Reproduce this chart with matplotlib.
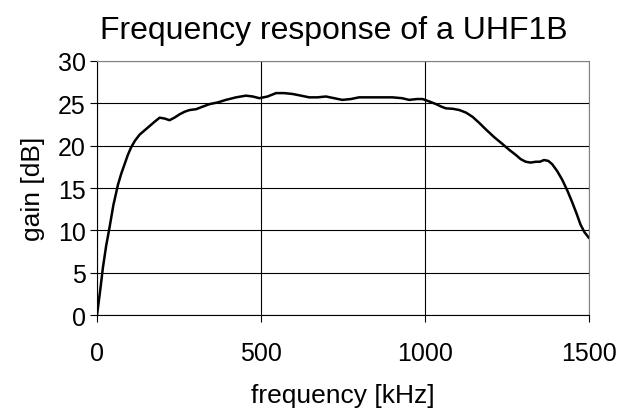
import matplotlib.pyplot as plt

freq = [0, 10, 18, 28, 38, 50, 64, 74, 84, 94, 104, 116, 130, 145, 160, 175,
        191, 206, 221, 236, 252, 267, 282, 302, 322, 343, 368, 393, 424, 454,
        475, 495, 520, 546, 571, 596, 622, 647, 672, 698, 723, 748, 774, 799,
        850, 901, 930, 952, 975, 993, 1014, 1034, 1050, 1064, 1085, 1105, 1125,
        1145, 1165, 1186, 1211, 1236, 1257, 1277, 1292, 1307, 1322, 1338, 1350,
        1363, 1376, 1388, 1403, 1418, 1434, 1449, 1462, 1474, 1486, 1500]
gain = [0, 3.0, 5.6, 8.2, 10.3, 13.0, 15.4, 16.7, 17.8, 18.9, 19.8, 20.6,
        21.3, 21.8, 22.3, 22.8, 23.3, 23.2, 23.0, 23.3, 23.7, 24.0, 24.2, 24.3,
        24.6, 24.9, 25.1, 25.4, 25.7, 25.9, 25.8, 25.6, 25.8, 26.2, 26.2, 26.1,
        25.9, 25.7, 25.7, 25.8, 25.6, 25.4, 25.5, 25.7, 25.7, 25.7, 25.6, 25.4,
        25.5, 25.5, 25.2, 24.9, 24.6, 24.4, 24.35, 24.2, 23.9, 23.4, 22.7, 21.9,
        21.0, 20.2, 19.5, 18.9, 18.4, 18.1, 18.0, 18.1, 18.1, 18.3, 18.2, 17.8,
        17.0, 16.0, 14.7, 13.3, 12.0, 10.7, 9.8, 9.1]
xticks = [0, 500, 1000, 1500]
yticks = [0, 5, 10, 15, 20, 25, 30]

plt.rcParams['font.family'] = ['Liberation Sans', 'DejaVu Sans']

fig = plt.figure(figsize=(6.34, 4.10), dpi=100)
ax = fig.add_axes([0.153, 0.229, 0.776, 0.620])

ax.plot(freq, gain, color='black', linewidth=1.8,
        solid_joinstyle='round', solid_capstyle='round')

ax.set_xlim(0, 1500)
ax.set_ylim(0, 30)
ax.set_xticks(xticks)
ax.set_yticks(yticks)
ax.grid(True, color='black', linewidth=0.8)
ax.tick_params(axis='both', labelsize=18, direction='out', length=5, width=0.8)
ax.tick_params(axis='x', pad=13.5)
ax.tick_params(axis='y', pad=3)

for side in ['top', 'right']:
    ax.spines[side].set_color('#808080')
for side in ['left', 'bottom']:
    ax.spines[side].set_color('black')

fig.text(0.527, 0.924, 'Frequency response of a UHF1B', fontsize=23,
         ha='center', va='center')
ax.set_xlabel('frequency [kHz]', fontsize=19, labelpad=13)
ax.set_ylabel('gain [dB]', fontsize=19, labelpad=9)

fig.savefig('out.png', dpi=100)
